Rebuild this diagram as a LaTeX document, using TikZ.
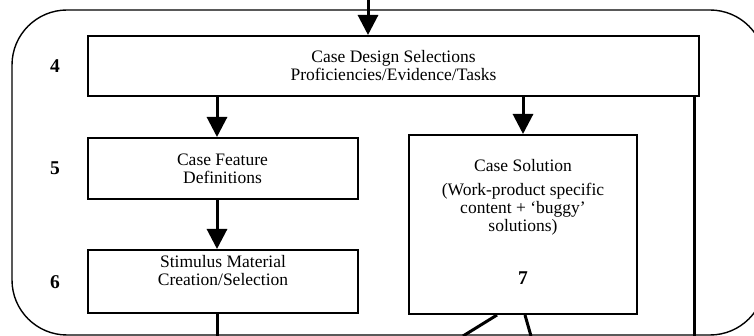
\documentclass[tikz,border=0pt]{standalone}
\usepackage{fontspec}
\setmainfont{Liberation Serif}
\usetikzlibrary{arrows.meta, positioning}

\begin{document}
\begin{tikzpicture}[x=1pt, y=-1pt,
            every node/.style={
            font=\fontsize{17.5}{18}\selectfont,
            align=center},
            box/.style={draw, line width=2pt, minimum width=270pt},
            num/.style={font=\fontsize{19.5}{20}\selectfont\bfseries},
            flow/.style={line width=3pt, -{Triangle[length=20pt, width=20pt]}},
            wire/.style={line width=3pt},
            >=Stealth]
            \useasboundingbox (0,0) rectangle (754,336);
            \clip (0,0) rectangle (754,336);
            % outer frame
            \draw[line width=1.4pt, rounded corners=55pt] (12,10) rectangle (765,335);
            % boxes
            \node[box, minimum width=611pt, minimum height=60pt] (design) at (393.5,66) {Case Design Selections\\Proficiencies/Evidence/Tasks};
            \node[box, minimum height=61pt] (feature) at (222.5,168.5) {Case Feature\\Definitions};
            \node[box, minimum height=63pt] (stimulus) at (223,281.5) {};
            \node (stimtext) at (223,271) {Stimulus Material\\Creation/Selection};
            \node[box, minimum width=228pt, minimum height=179pt] (solution) at (523,224.5) {};
            \node (soltext) at (523,197) {Case Solution\\[6pt](Work-product specific\\content + `buggy'\\solutions)};
            \node[num] (seven) at (523,278) {7};
            % step numbers
            \node[num] (four) at (55,66) {4};
            \node[num] (five) at (55,168) {5};
            \node[num] (six) at (55,282) {6};
            % connectors
            \coordinate (in) at (368,0);
            \coordinate (col) at (217,0);
            \coordinate (outsix) at (217,336);
            \coordinate (outfour) at (694,336);
            \coordinate (outa) at (463,336);
            \coordinate (outb) at (531,336);
            \draw[flow] (in) -- (in |- design.north);
            \draw[flow] (design.south -| col) -- (feature.north -| col);
            \draw[flow] (feature.south -| col) -- (stimulus.north -| col);
            \draw[flow] (design.south -| solution) -- (solution.north);
            \draw[wire] (stimulus.south -| col) -- (outsix);
            \draw[wire] (design.south -| outfour) -- (outfour);
            \draw[wire] ([xshift=-26pt]solution.south) -- (outa);
            \draw[wire] ([xshift=2pt]solution.south) -- (outb);
        \end{tikzpicture}
\end{document}
